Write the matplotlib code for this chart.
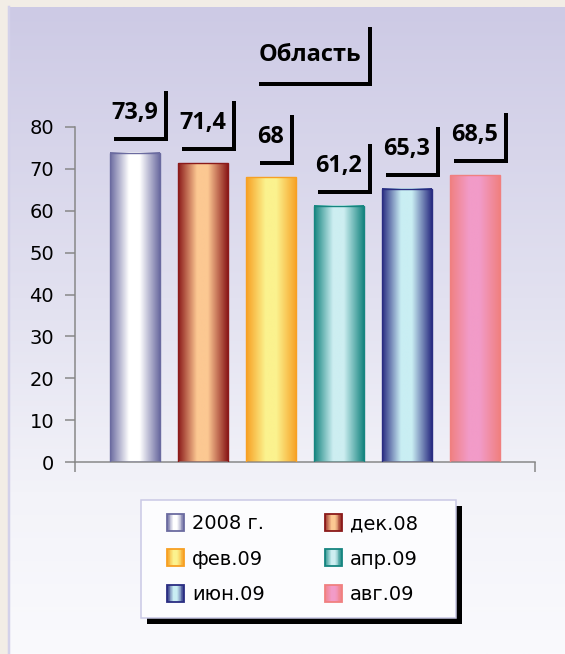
import numpy as np
import matplotlib
matplotlib.use('Agg')
import matplotlib.pyplot as plt
from matplotlib.colors import LinearSegmentedColormap
from matplotlib.patches import Rectangle
from matplotlib.lines import Line2D
from matplotlib.transforms import IdentityTransform

# data
title = 'Область'
series = ['2008 г.', 'дек.08', 'фев.09', 'апр.09', 'июн.09', 'авг.09']
values = [73.9, 71.4, 68, 61.2, 65.3, 68.5]
yticks = [0, 10, 20, 30, 40, 50, 60, 70, 80]

# styles
edge_colors = ['#6b6ba0', '#8b1a1a', '#f7a023', '#168580', '#2a2d82', '#f08080']
center_colors = ['#ffffff', '#fcc892', '#fbf28e', '#cdeef1', '#c9eef3', '#f29bc8']
W, H, DPI = 565, 654, 100
PX = 72.0 / DPI  # points per pixel
FS = 14


def grad_cmap(i):
    e, c = edge_colors[i], center_colors[i]
    return LinearSegmentedColormap.from_list('g%d' % i, [(0, e), (0.38, c), (0.6, c), (1, e)])


class Swatch:
    def __init__(self, i):
        self.i = i


class SwatchHandler:
    # gradient square, drawn at the right end of the handle box
    def legend_artist(self, legend, orig_handle, fontsize, handlebox):
        tr = handlebox.get_transform()
        side = 17.0 * PX
        x0 = -handlebox.xdescent + handlebox.width - side
        y0 = -handlebox.ydescent + (handlebox.height - side) / 2
        cmap = grad_cmap(orig_handle.i)
        n = 20
        for k in range(n):
            handlebox.add_artist(Rectangle((x0 + k * side / n, y0), side / n * 1.1, side,
                                           facecolor=cmap((k + 0.5) / n), edgecolor='none',
                                           transform=tr))
        frame = Rectangle((x0, y0), side, side, facecolor='none',
                          edgecolor=edge_colors[orig_handle.i], lw=1.3, transform=tr)
        handlebox.add_artist(frame)
        return frame


fig = plt.figure(figsize=(W / DPI, H / DPI), dpi=DPI, facecolor='#f2ede6')

# background panel
bg = fig.add_axes([0, 0, 1, 1], zorder=-5)
bg_cmap = LinearSegmentedColormap.from_list('bg', [(0, '#cdcae5'), (0.45, '#e2e1f0'),
                                                   (0.75, '#f3f3f9'), (1, '#fafafd')])
bg.imshow(np.linspace(0, 1, 256)[:, None], cmap=bg_cmap, extent=(8, W, H, 7),
          aspect='auto', interpolation='bilinear')
bg.plot([8.5, 8.5], [7, H], color='#d3d1ea', lw=2.5 * PX)
bg.set_xlim(0, W)
bg.set_ylim(H, 0)
bg.axis('off')

# main axes
ax = fig.add_axes([75 / W, 1 - 462 / H, 460 / W, 335 / H], facecolor='none')
x = np.arange(len(values))
bw = 50 / 68
xlim = (-60 / 68, len(values) - 1 + 60 / 68)

bars = ax.bar(x, values, width=bw, facecolor='none', edgecolor=edge_colors, lw=1.0, zorder=3)
for i, (xi, v) in enumerate(zip(x, values)):
    ax.imshow(np.linspace(0, 1, 128)[None, :], cmap=grad_cmap(i),
              extent=(xi - bw / 2, xi + bw / 2, 0, v), aspect='auto',
              interpolation='bilinear', zorder=2)

ax.set_xlim(*xlim)
ax.set_ylim(0, 80)
ax.set_yticks(yticks)
ax.set_xticks(list(xlim))
ax.set_xticklabels([])
for s in ['top', 'right']:
    ax.spines[s].set_visible(False)
for s in ['left', 'bottom']:
    ax.spines[s].set_color('#868686')
    ax.spines[s].set_linewidth(1.5 * PX)
ax.tick_params(axis='both', direction='out', length=10 * PX, width=1.5 * PX, color='#868686')
ax.tick_params(axis='y', labelsize=FS, pad=11 * PX, labelcolor='black')

# data labels
lab_font = dict(family=['Open Sans', 'DejaVu Sans'], weight='bold', size=16.8)
labels = []
for xi, v in zip(x, values):
    t = ax.annotate(('%g' % v).replace('.', ','), xy=(xi, v), xytext=(0, 34 * PX),
                    textcoords='offset points', ha='center', va='baseline',
                    annotation_clip=False, **lab_font)
    labels.append((t, xi, v))

ttl = fig.text(310 / W, 1 - 61 / H, title, ha='center', va='baseline',
               family=['Open Sans', 'DejaVu Sans'], weight='bold', size=17)

# legend (frame drawn by hand below, wider on the right as in the original)
order = [0, 2, 4, 1, 3, 5]
fpx = FS / PX
leg = fig.legend([Swatch(i) for i in order], [series[i] for i in order],
                 handler_map={Swatch: SwatchHandler()}, ncol=2, loc='upper left',
                 bbox_to_anchor=(141 / W, 1 - 500 / H), borderaxespad=0,
                 prop=dict(family='DejaVu Sans', size=FS), frameon=False,
                 borderpad=0.72, labelspacing=0.85, handlelength=29 / fpx,
                 handleheight=17 / fpx, handletextpad=8 / fpx, columnspacing=48 / fpx)
leg.set_zorder(5)

fig.canvas.draw()
r = fig.canvas.get_renderer()


def l_shadow(left, right, top, bottom):
    fig.add_artist(Line2D([left, right, right], [bottom, bottom, top], color='black',
                          lw=4 * PX, solid_joinstyle='miter', solid_capstyle='butt',
                          transform=IdentityTransform(), zorder=4))


for t, xi, v in labels:
    bb = t.get_window_extent(r)
    base = ax.transData.transform((xi, v))[1] + 34
    l_shadow(bb.x0 + 2, bb.x1 + 8, base + 28, base - 20)

bb = ttl.get_window_extent(r)
base = (1 - 61 / H) * H
l_shadow(bb.x0, bb.x1 + 9, base + 34, base - 23)

lb = leg.get_window_extent(r)
fw, fh = lb.width + 24, lb.height
fig.add_artist(Rectangle((lb.x0 + 6, lb.y0 - 6), fw, fh, facecolor='black',
                         edgecolor='none', transform=IdentityTransform(), zorder=4.5))
fig.add_artist(Rectangle((lb.x0, lb.y0), fw, fh, facecolor='#fcfcfe', edgecolor='#c9c8e5',
                         lw=1.5 * PX, transform=IdentityTransform(), zorder=4.6))

fig.savefig('out.png', dpi=DPI, facecolor=fig.get_facecolor())
